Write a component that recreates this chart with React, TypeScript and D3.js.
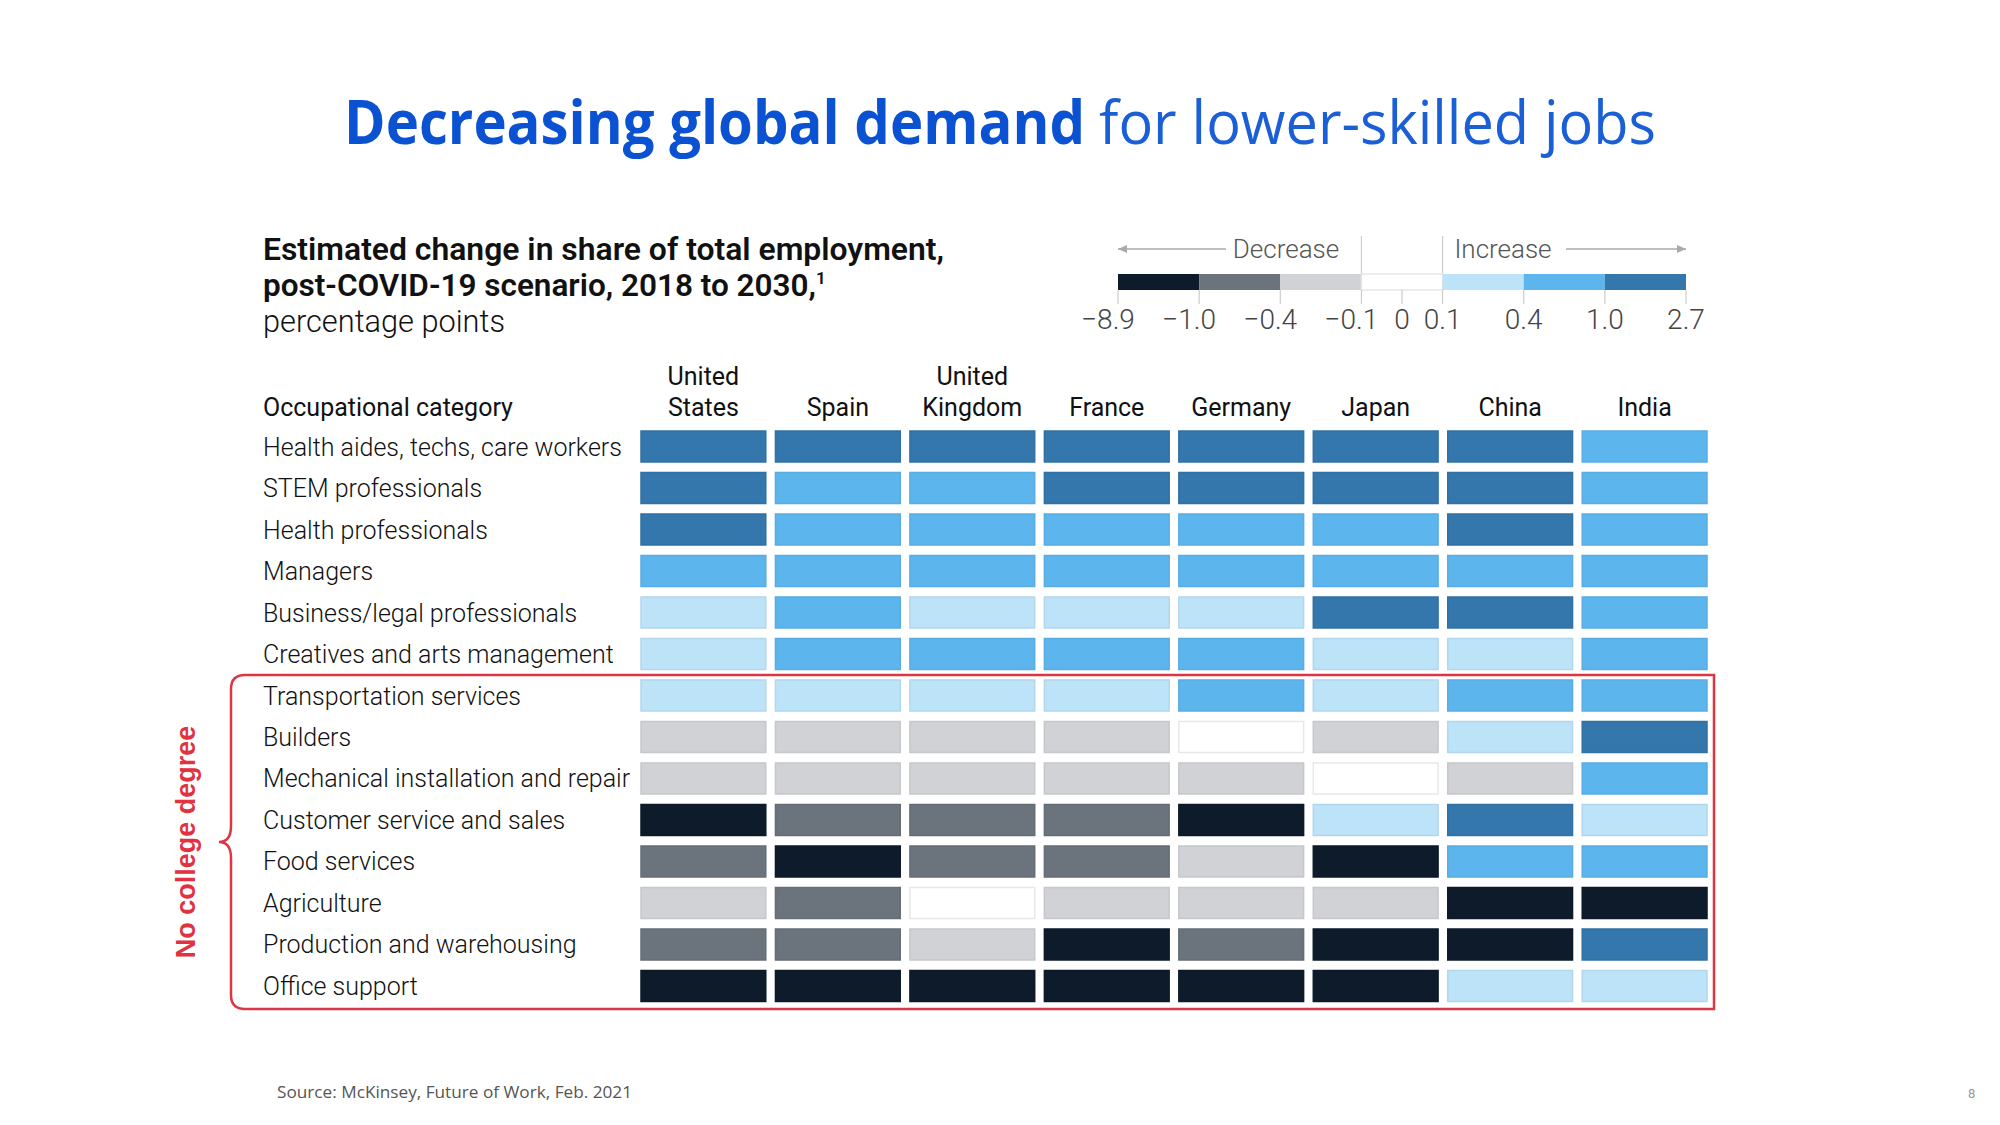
import React from "react";
import * as d3 from "d3";

const countries = ["United States", "Spain", "United Kingdom", "France", "Germany", "Japan", "China", "India"];
const categories = [
  "Health aides, techs, care workers",
  "STEM professionals",
  "Health professionals",
  "Managers",
  "Business/legal professionals",
  "Creatives and arts management",
  "Transportation services",
  "Builders",
  "Mechanical installation and repair",
  "Customer service and sales",
  "Food services",
  "Agriculture",
  "Production and warehousing",
  "Office support",
];
// estimated change, percentage points (binned estimates read from colour)
const values: number[][] = [
  [1.5, 1.5, 1.5, 1.5, 1.5, 1.5, 1.5, 0.7],
  [1.5, 0.7, 0.7, 1.5, 1.5, 1.5, 1.5, 0.7],
  [1.5, 0.7, 0.7, 0.7, 0.7, 0.7, 1.5, 0.7],
  [0.7, 0.7, 0.7, 0.7, 0.7, 0.7, 0.7, 0.7],
  [0.25, 0.7, 0.25, 0.25, 0.25, 1.5, 1.5, 0.7],
  [0.25, 0.7, 0.7, 0.7, 0.7, 0.25, 0.25, 0.7],
  [0.25, 0.25, 0.25, 0.25, 0.7, 0.25, 0.7, 0.7],
  [-0.25, -0.25, -0.25, -0.25, 0, -0.25, 0.25, 1.5],
  [-0.25, -0.25, -0.25, -0.25, -0.25, 0, -0.25, 0.7],
  [-1.5, -0.7, -0.7, -0.7, -1.5, 0.25, 1.5, 0.25],
  [-0.7, -1.5, -0.7, -0.7, -0.25, -1.5, 0.7, 0.7],
  [-0.25, -0.7, 0, -0.25, -0.25, -0.25, -1.5, -1.5],
  [-0.7, -0.7, -0.25, -1.5, -0.7, -1.5, -1.5, 1.5],
  [-1.5, -1.5, -1.5, -1.5, -1.5, -1.5, 0.25, 0.25],
];
const thresholds = [-1.0, -0.4, -0.1, 0.1, 0.4, 1.0];
const palette = ["#0e1b2b", "#6b747d", "#d0d2d5", "#ffffff", "#bce3f8", "#5db5ee", "#3477ad"];
const legendTicks = ["\u22128.9", "\u22121.0", "\u22120.4", "\u22120.1", "0.1", "0.4", "1.0", "2.7"];

const FONT = "Roboto, 'Liberation Sans', sans-serif";

export default function App() {
  const color = d3.scaleThreshold<number, string>().domain(thresholds).range(palette);
  const x = d3.scaleBand<string>().domain(countries).range([641, 1707]).paddingInner(0.072).paddingOuter(0);
  const y = d3.scaleBand<string>().domain(categories).range([431, 1001.5]).paddingInner(0.253).paddingOuter(0);
  const lx = d3.scaleLinear().domain([0, 7]).range([1118, 1686]);

  const bTop = 675, bBot = 1009, bL = 231, bR = 1714, bMid = 842, r = 14;
  const bracket = [
    `M${bR},${bTop}`,
    `L${bL + r},${bTop}`,
    `Q${bL},${bTop} ${bL},${bTop + r}`,
    `L${bL},${bMid - 16}`,
    `Q${bL},${bMid} ${bL - 12},${bMid}`,
    `Q${bL},${bMid} ${bL},${bMid + 16}`,
    `L${bL},${bBot - r}`,
    `Q${bL},${bBot} ${bL + r},${bBot}`,
    `L${bR},${bBot}`,
    `Z`,
  ].join(" ");

  return (
    <svg width={2000} height={1125} style={{ position: "absolute", left: 0, top: 0, background: "#fff" }} fontFamily={FONT}>
      <rect width={2000} height={1125} fill="#fff" />
      {/* Title */}
      <text x={344} y={144} fontFamily="'Open Sans', 'Noto Sans', sans-serif" fontSize={60} fontWeight={700} fill="#0b52d3" textLength={741} lengthAdjust="spacingAndGlyphs">
        Decreasing global demand
      </text>
      <text x={1099} y={144} fontFamily="'Open Sans', 'Noto Sans', sans-serif" fontSize={60} fontWeight={400} fill="#1a5fd6" textLength={557} lengthAdjust="spacingAndGlyphs">
        for lower-skilled jobs
      </text>

      {/* Subtitle */}
      <text x={263} y={260} fontSize={31} fontWeight={600} fill="#111" textLength={681} lengthAdjust="spacingAndGlyphs">
        Estimated change in share of total employment,
      </text>
      <text x={263} y={296} fontSize={31} fontWeight={600} fill="#111">
        <tspan textLength={553} lengthAdjust="spacingAndGlyphs">post-COVID-19 scenario, 2018 to 2030,</tspan>
        <tspan fontSize={17} dy={-12}>1</tspan>
      </text>
      <text x={263} y={332} fontSize={31} fontWeight={300} fill="#111" textLength={242} lengthAdjust="spacingAndGlyphs">
        percentage points
      </text>

      {/* Legend */}
      <g>
        <line x1={lx(0)} x2={1226} y1={249} y2={249} stroke="#aaa" strokeWidth={1.5} />
        <path d={`M${lx(0)},249 l9,-4 l0,8 z`} fill="#aaa" />
        <line x1={1566} x2={lx(7)} y1={249} y2={249} stroke="#aaa" strokeWidth={1.5} />
        <path d={`M${lx(7)},249 l-9,-4 l0,8 z`} fill="#aaa" />
        <text x={1286} y={258} textAnchor="middle" fontSize={26} fontWeight={300} fill="#555">Decrease</text>
        <text x={1503} y={258} textAnchor="middle" fontSize={26} fontWeight={300} fill="#555">Increase</text>
        <line x1={lx(3)} x2={lx(3)} y1={236} y2={274} stroke="#ccc" strokeWidth={1.2} />
        <line x1={lx(4)} x2={lx(4)} y1={236} y2={274} stroke="#ccc" strokeWidth={1.2} />
        {palette.map((c, i) => (
          <rect key={i} x={lx(i)} y={274} width={lx(i + 1) - lx(i)} height={16} fill={c}
            stroke={c === "#ffffff" ? "#e6e6e6" : "none"} strokeWidth={1.5} />
        ))}
        {legendTicks.map((t, i) => (
          <g key={t}>
            <line x1={lx(i)} x2={lx(i)} y1={290} y2={304} stroke="#ccc" strokeWidth={1.2} />
            <text x={lx(i)} dx={t.startsWith("\u2212") ? -10 : 0} y={329} textAnchor="middle" fontSize={28} fontWeight={300} fill="#444">{t}</text>
          </g>
        ))}
        <line x1={lx(3.5)} x2={lx(3.5)} y1={290} y2={304} stroke="#ccc" strokeWidth={1.2} />
        <text x={lx(3.5)} y={329} textAnchor="middle" fontSize={28} fontWeight={300} fill="#444">0</text>
      </g>

      {/* Column headers */}
      <text x={263} y={416} fontSize={25} fontWeight={400} fill="#111">Occupational category</text>
      {countries.map((c) => {
        const parts = c.startsWith("United ") ? ["United", c.slice(7)] : [c];
        const cx = (x(c) as number) + x.bandwidth() / 2;
        return (
          <text key={c} x={cx} textAnchor="middle" fontSize={25} fontWeight={400} fill="#111">
            {parts.length === 2 ? (
              <>
                <tspan x={cx} y={385}>{parts[0]}</tspan>
                <tspan x={cx} y={416}>{parts[1]}</tspan>
              </>
            ) : (
              <tspan x={cx} y={416}>{parts[0]}</tspan>
            )}
          </text>
        );
      })}

      {/* Row labels */}
      {categories.map((cat) => (
        <text key={cat} x={263} y={(y(cat) as number) + y.bandwidth() / 2} dy="0.36em" fontSize={25} fontWeight={300} fill="#111">
          {cat}
        </text>
      ))}

      {/* Cells */}
      {categories.map((cat, ri) =>
        countries.map((c, ci) => {
          const v = values[ri][ci];
          const fill = color(v);
          return (
            <rect key={cat + c} x={x(c)} y={y(cat)} width={x.bandwidth()} height={y.bandwidth()}
              fill={fill} stroke={fill === "#ffffff" ? "#e8e8e8" : d3.color(fill)!.darker(0.15).formatHex()} strokeWidth={1.5} />
          );
        })
      )}

      {/* Bracket */}
      <path d={bracket} fill="none" stroke="#dc3545" strokeWidth={2.5} />
      <text transform={`translate(195,${bMid}) rotate(-90)`} textAnchor="middle" fontFamily="'Liberation Sans', Arial, sans-serif" fontSize={27} fontWeight={700} fill="#e0323f">
        No college degree
      </text>

      {/* Footer */}
      <text x={277} y={1098} fontFamily="'Open Sans', 'Noto Sans', sans-serif" fontSize={17} fill="#555" textLength={355} lengthAdjust="spacingAndGlyphs">
        Source: McKinsey, Future of Work, Feb. 2021
      </text>
      <text x={1968} y={1098} fontSize={13} fill="#999">8</text>
    </svg>
  );
}
